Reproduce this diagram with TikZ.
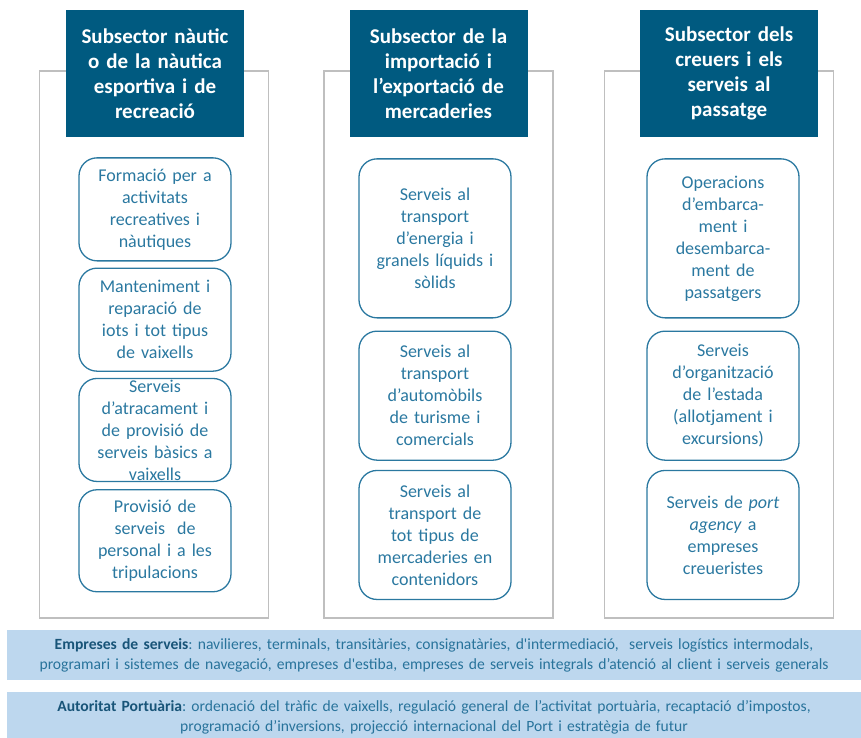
\documentclass[tikz,border=0pt]{standalone}
\usepackage{fontspec}
\setmainfont{Carlito}
\frenchspacing
\usetikzlibrary{positioning}
\definecolor{hdblue}{RGB}{0,90,128}
\definecolor{itblue}{RGB}{42,120,160}
\definecolor{barfill}{RGB}{189,215,238}
\definecolor{bartxt}{RGB}{40,115,155}
\definecolor{bardark}{RGB}{24,84,120}
\tikzset{colframe/.style={draw=black!25, line width=1.5pt, minimum width=229pt, minimum height=547pt, inner sep=0pt}}
\tikzset{hdr/.style={fill=hdblue, text=white, font=\fontsize{21}{25}\selectfont\bfseries, minimum width=178pt, minimum height=127pt, text width=170pt, align=center, inner sep=0pt}}
\tikzset{item/.style={draw=itblue, line width=1.3pt, rounded corners=18pt, text=itblue, font=\fontsize{18}{22}\selectfont, text width=140pt, align=center, minimum width=152pt, inner xsep=6pt, inner ysep=0pt}}
\tikzset{bar/.style={fill=barfill, text=bartxt, font=\fontsize{15.6}{20}\selectfont, minimum width=854pt, minimum height=50pt, text width=850pt, align=center, inner sep=0pt}}
\newcommand{\bhead}[1]{\textcolor{bardark}{\textbf{#1}}}

\begin{document}
\begin{tikzpicture}[x=1pt, y=-1pt]
	\useasboundingbox (0,0) rectangle (861,737);
	% column frames, behind the headers
	\node[colframe] (frA) at (154,344.5) {};
	\node[colframe] (frB) at (438.5,344.5) {};
	\node[colframe] (frC) at (719,344.5) {};

	\node[hdr] (hdA) at (155,73.5) {Subsector nàutic\\ o de la nàutica\\ esportiva i de\\ recreació};
	\node[hdr] (hdB) at (438.5,73.5) {Subsector de la\\ importació i\\ l’exportació de\\ mercaderies};
	\node[hdr] (hdC) at (729,73.5) {Subsector dels\\ creuers i els\\ serveis al\\ passatge};

	% nautic
	\node[item, minimum height=103pt, below=20pt of hdA] (a1)
		{Formació per a\\ activitats\\ recreatives i\\ nàutiques};
	\node[item, minimum height=103pt, below=6pt of a1] (a2)
		{Manteniment i\\ reparació de\\ iots i tot tipus\\ de vaixells};
	\node[item, minimum height=103pt, below=6pt of a2] (a3)
		{Serveis\\ d’atracament i\\ de provisió de\\ serveis bàsics a\\ vaixells};
	\node[item, minimum height=102pt, below=7pt of a3] (a4)
		{Provisió de\\ serveis~ de\\ personal i a les\\ tripulacions};

	% mercaderies
	\node[item, minimum height=159pt, below=21pt of hdB, xshift=-3.5pt] (b1)
		{Serveis al\\ transport\\ d’energia i\\ granels líquids i\\ sòlids};
	\node[item, minimum height=129pt, below=12pt of b1] (b2)
		{Serveis al\\ transport\\ d’automòbils\\ de turisme i\\ comercials};
	\node[item, minimum height=129pt, below=9pt of b2] (b3)
		{Serveis al\\ transport de\\ tot tipus de\\ mercaderies en\\ contenidors};

	% creuers
	\node[item, minimum height=159pt, below=21pt of hdC, xshift=-6pt] (c1)
		{Operacions\\ d’embarca-\\ ment i\\ desembarca-\\ ment de\\ passatgers};
	\node[item, minimum height=129pt, below=12pt of c1] (c2)
		{Serveis\\ d’organització\\ de l’estada\\ (allotjament i\\ excursions)};
	\node[item, minimum height=129pt, below=9pt of c2] (c3)
		{Serveis de \textit{port}\\ \textit{agency} a\\ empreses\\ creueristes};

	% bottom bars
	\node[bar] (emp) at (434,655)
		{\bhead{Empreses de serveis}: navilieres, terminals, transitàries, consignatàries, d\textquotesingle intermediació,~ serveis logístics intermodals,\\ programari i sistemes de navegació, empreses d\textquotesingle estiba, empreses de serveis integrals d’atenció al client i serveis generals};
	\node[bar] (aut) at (434,717)
		{\bhead{Autoritat Portuària}: ordenació del tràfic de vaixells, regulació general de l’activitat portuària, recaptació d’impostos,\\ programació d’inversions, projecció internacional del Port i estratègia de futur};
\end{tikzpicture}
\end{document}
